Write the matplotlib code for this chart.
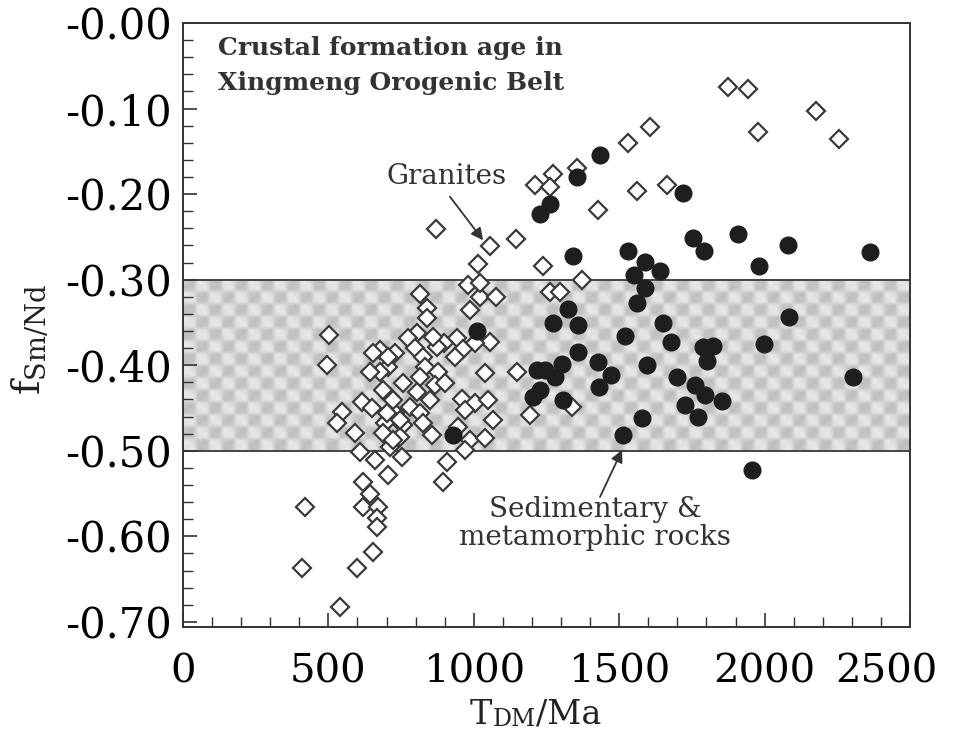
import numpy as np
import matplotlib
matplotlib.use("Agg")
import matplotlib.pyplot as plt
import matplotlib.transforms as mtransforms
from matplotlib.ticker import MultipleLocator, FixedLocator, FixedFormatter

# granites (open diamonds): T_DM (Ma), f_Sm/Nd
granite_t = [1874, 1943, 2177, 1977, 2256, 1606, 1530, 1355, 1272, 1210,
             1262, 1664, 1561, 1427, 1238, 1372, 1262, 1296, 1056, 1014,
             1145, 870, 980, 1021, 1076, 987, 942, 1056, 1021, 815,
             839, 839, 1004, 963, 935, 897, 873, 860, 805, 774,
             798, 729, 825, 705, 677, 832, 877, 757, 815, 867,
             901, 1039, 1149, 712, 805, 849, 781, 729, 815, 959,
             1004, 1049, 970, 1066, 1193, 946, 695, 757, 825, 856,
             746, 987, 1039, 712, 970, 753, 908, 894, 1338, 502,
             495, 420, 409, 540, 598, 653, 619, 670, 667, 667,
             619, 643, 609, 660, 705, 591, 547, 530, 653, 677,
             615, 650, 701, 746, 688, 722, 688, 722, 643, 705]
granite_f = [-0.075, -0.077, -0.103, -0.127, -0.136, -0.122, -0.140, -0.170, -0.176, -0.189,
             -0.192, -0.189, -0.196, -0.219, -0.284, -0.300, -0.314, -0.314, -0.261, -0.282,
             -0.252, -0.241, -0.306, -0.320, -0.320, -0.335, -0.368, -0.373, -0.304, -0.317,
             -0.333, -0.345, -0.374, -0.381, -0.390, -0.374, -0.379, -0.367, -0.362, -0.368,
             -0.380, -0.386, -0.390, -0.402, -0.382, -0.402, -0.408, -0.421, -0.414, -0.423,
             -0.421, -0.409, -0.408, -0.437, -0.431, -0.441, -0.449, -0.456, -0.456, -0.440,
             -0.444, -0.441, -0.452, -0.464, -0.458, -0.472, -0.468, -0.470, -0.468, -0.482,
             -0.484, -0.487, -0.485, -0.496, -0.499, -0.507, -0.513, -0.537, -0.449, -0.365,
             -0.400, -0.566, -0.637, -0.683, -0.637, -0.618, -0.566, -0.566, -0.579, -0.589,
             -0.537, -0.550, -0.501, -0.511, -0.528, -0.479, -0.455, -0.468, -0.386, -0.408,
             -0.443, -0.450, -0.456, -0.464, -0.429, -0.441, -0.479, -0.487, -0.408, -0.390]

# sedimentary & metamorphic rocks (filled circles)
sed_t = [1791, 1909, 1981, 2080, 2362, 2084, 1998, 2304, 1957, 1561,
         1589, 1324, 1272, 1358, 1651, 1520, 1678, 1788, 1823, 1802,
         1358, 1303, 1427, 1596, 1245, 1279, 1472, 1699, 1761, 1430,
         1795, 1854, 1228, 1307, 1726, 1771, 1578, 1513, 1217, 1204,
         1011, 929, 1434, 1355, 1262, 1228, 1341, 1719, 1754, 1530,
         1589, 1640, 1551]
sed_f = [-0.267, -0.247, -0.284, -0.259, -0.268, -0.344, -0.375, -0.414, -0.523, -0.327,
         -0.310, -0.334, -0.351, -0.353, -0.351, -0.366, -0.373, -0.379, -0.378, -0.395,
         -0.384, -0.399, -0.396, -0.400, -0.406, -0.414, -0.411, -0.414, -0.423, -0.425,
         -0.435, -0.442, -0.429, -0.441, -0.447, -0.461, -0.462, -0.482, -0.406, -0.437,
         -0.360, -0.482, -0.154, -0.180, -0.212, -0.223, -0.272, -0.199, -0.251, -0.267,
         -0.279, -0.290, -0.295]

band = (-0.50, -0.30)
yticks = [0.0, -0.1, -0.2, -0.3, -0.4, -0.5, -0.6, -0.7]
ytick_labels = ["-0.00", "-0.10", "-0.20", "-0.30", "-0.40", "-0.50", "-0.60", "-0.70"]
xticks = [0, 500, 1000, 1500, 2000, 2500]

plt.rcParams["font.family"] = ["DejaVu Serif"]
plt.rcParams["mathtext.fontset"] = "dejavuserif"

fig = plt.figure(figsize=(9.54, 7.32), dpi=100)
ax = fig.add_axes([183 / 954, 105 / 732, 727 / 954, 604 / 732])
ax.set_xlim(0, 2500)
ax.set_ylim(-0.706, 0.0)

# shaded checkered band
ii, jj = np.indices((14, 56))
chk = np.where((ii + jj) % 2 == 0, 0.77, 0.91)
grain = np.array([[1.0, 1.0, 0.96, 0.96],
                  [1.0, 1.0, 0.96, 0.96],
                  [0.97, 0.97, 1.0, 1.0],
                  [0.97, 0.97, 1.0, 1.0]])
tex = np.kron(chk, grain)
ax.imshow(tex, cmap="gray", vmin=0, vmax=1, extent=(0, 2500, band[0], band[1]),
          aspect="auto", interpolation="bicubic", zorder=0)
ax.axhline(band[1], color="#444444", lw=1.4, zorder=1)
ax.axhline(band[0], color="#444444", lw=1.4, zorder=1)

ax.plot(granite_t, granite_f, ls="none", marker="D", ms=9.3, mfc="white",
        mec="#3a3a3a", mew=1.6, zorder=3)
ax.plot(sed_t, sed_f, ls="none", marker="o", ms=12, mfc="#1e1e1e",
        mec="#1e1e1e", zorder=4)

for s in ax.spines.values():
    s.set_color("#333333")
    s.set_linewidth(1.4)

ax.xaxis.set_major_locator(FixedLocator(xticks))
ax.xaxis.set_minor_locator(MultipleLocator(100))
ax.yaxis.set_major_locator(FixedLocator(yticks))
ax.yaxis.set_major_formatter(FixedFormatter(ytick_labels))
ax.yaxis.set_minor_locator(MultipleLocator(0.02))
ax.tick_params(which="both", direction="in", top=False, right=False, color="#333333")
ax.tick_params(which="major", length=10, width=1.2)
ax.tick_params(which="minor", length=7, width=1.0)
ax.tick_params(axis="x", labelsize=29, pad=19)
ax.tick_params(axis="y", labelsize=30, pad=8)

# keep the last x label inside the figure, as in the original
lab = ax.xaxis.get_major_ticks()[-1].label1
lab.set_transform(lab.get_transform() +
                  mtransforms.ScaledTranslation(-0.24, 0, fig.dpi_scale_trans))

ax.text(120, -0.050, "Crustal formation age in\nXingmeng Orogenic Belt",
        fontsize=18, fontweight="bold", color="#333333", va="center",
        linespacing=1.6)

ax.text(908, -0.180, "Granites", fontsize=20, color="#333333", ha="center", va="center")
ax.annotate("", xy=(1032, -0.254), xytext=(918, -0.203),
            arrowprops=dict(arrowstyle="-|>", color="#333333", lw=1.3,
                            mutation_scale=18, shrinkA=0, shrinkB=0))

ax.text(1417, -0.585, "Sedimentary &\nmetamorphic rocks", fontsize=20, color="#333333",
        ha="center", va="center", linespacing=1.05)
ax.annotate("", xy=(1510, -0.499), xytext=(1434, -0.554),
            arrowprops=dict(arrowstyle="-|>", color="#333333", lw=1.3,
                            mutation_scale=18, shrinkA=0, shrinkB=0))

# y label: f with small Sm/Nd
fig.text(30 / 954, 1 - 340 / 732, r"$\mathregular{f_{Sm/Nd}}$", rotation=90,
         fontsize=28, ha="center", va="center", color="#222222")

# x label: T, small DM, /Ma on one baseline
t1 = fig.text(470 / 954, 1 - 731 / 732, "T", fontsize=24, ha="left",
              va="bottom", color="#222222")
t2 = ax.annotate("DM", xy=(1, 0), xycoords=t1, fontsize=17, color="#222222",
                 ha="left", va="bottom", annotation_clip=False)
ax.annotate("/Ma", xy=(1, 0), xycoords=t2, fontsize=24, color="#222222",
            ha="left", va="bottom", annotation_clip=False)

fig.savefig("out.png", dpi=100)
